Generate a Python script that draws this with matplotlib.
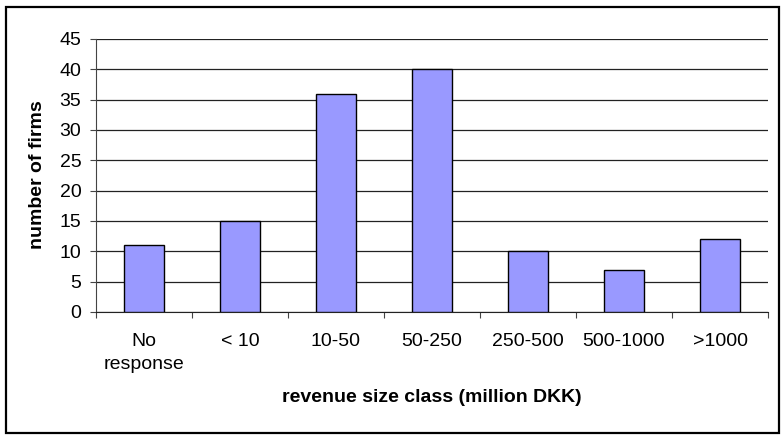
import matplotlib.pyplot as plt
import numpy as np
from matplotlib.patches import Rectangle

categories = ["No\nresponse", "< 10", "10-50", "50-250", "250-500", "500-1000", ">1000"]
firms = [11, 15, 36, 40, 10, 7, 12]

plt.rcParams['font.family'] = ['Liberation Sans', 'DejaVu Sans']
fs = 14

fig = plt.figure(figsize=(7.81, 4.37), dpi=100)
ax = fig.add_axes([96 / 781, 125 / 437, 672 / 781, 273 / 437])

x = np.arange(len(categories))
ax.bar(x, firms, width=0.42, color='#9999FF', edgecolor='black', linewidth=1, zorder=3)

ax.set_xlim(-0.5, len(categories) - 0.5)
ax.set_ylim(0, 45)
ax.set_yticks(range(0, 46, 5))
ax.yaxis.grid(True, color='#222222', linewidth=0.9, zorder=0)

ax.set_xticks(np.arange(-0.5, len(categories), 1))
ax.set_xticklabels([])
ax.set_xticks(x, minor=True)
ax.set_xticklabels(categories, minor=True, fontsize=fs, linespacing=1.45)
ax.tick_params(axis='x', which='minor', length=0, pad=15)
ax.tick_params(axis='x', which='major', length=4, direction='out', color='#444444')
ax.tick_params(axis='y', length=4.5, direction='out', labelsize=fs, pad=6, color='#444444')

for s in ['top', 'right']:
    ax.spines[s].set_visible(False)
ax.spines['left'].set_color('#444444')
ax.spines['bottom'].set_color('#222222')

ax.set_ylabel("number of firms", fontsize=fs, fontweight='bold')
ax.yaxis.set_label_coords(46 / 781, (437 - 175) / 437, transform=fig.transFigure)
fig.text(0.5 * (96 + 768) / 781, (437 - 397) / 437, "revenue size class (million DKK)",
         ha='center', va='center', fontsize=fs, fontweight='bold')

fig.patches.append(Rectangle((6 / 781, 4 / 437), 773 / 781, 426 / 437, transform=fig.transFigure,
                             fill=False, edgecolor='black', linewidth=1.6))

fig.savefig("out.png", dpi=100)
